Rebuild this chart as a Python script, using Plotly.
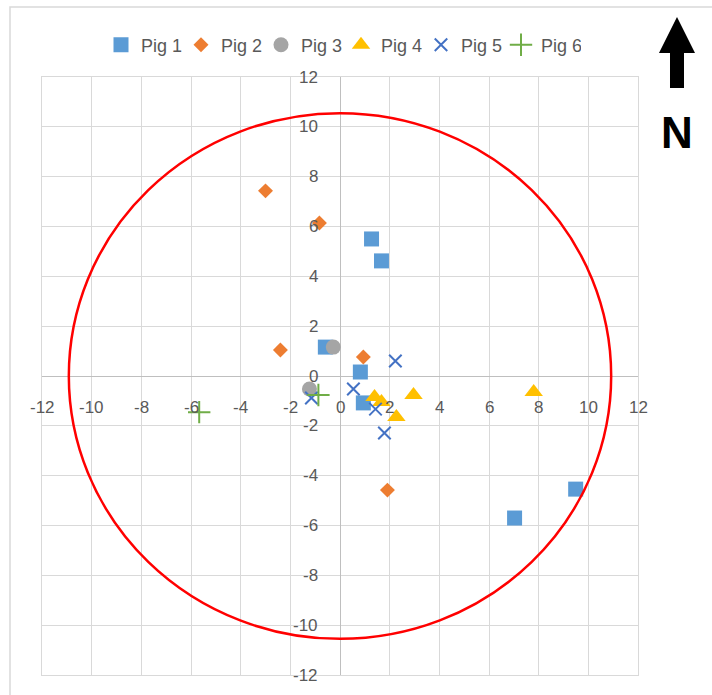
import plotly.graph_objects as go

# ---- data ----
pig1_x = [1.27, 1.67, -0.59, 0.82, 0.94, 7.03, 9.49]
pig1_y = [5.50, 4.62, 1.16, 0.16, -1.08, -5.70, -4.54]
pig2_x = [-3.00, -0.83, -2.40, 0.94, 1.91]
pig2_y = [7.43, 6.14, 1.04, 0.76, -4.58]
pig3_x = [-0.27, -1.23]
pig3_y = [1.16, -0.52]
pig4_x = [1.39, 1.67, 2.27, 2.96, 7.80]
pig4_y = [-0.84, -1.04, -1.65, -0.76, -0.64]
pig5_x = [2.23, 0.54, 1.43, 1.79, -1.15]
pig5_y = [0.60, -0.52, -1.33, -2.29, -0.88]
pig6_x = [-0.87, -5.67]
pig6_y = [-0.76, -1.45]

series_names = ["Pig 1", "Pig 2", "Pig 3", "Pig 4", "Pig 5", "Pig 6"]
tick_vals = [-12, -10, -8, -6, -4, -2, 0, 2, 4, 6, 8, 10, 12]
circle_rx = 10.92
circle_ry = 10.55

# ---- layout geometry (pixels) ----
W, H = 712, 695
ML, MR, MT, MB = 42, 74, 77, 20
PW, PH = W - ML - MR, H - MT - MB


def px(xp):
    return (xp - ML) / PW


def py(yp):
    return (H - MB - yp) / PH


styles = [
    dict(symbol="square", size=15, color="#5B9BD5"),
    dict(symbol="diamond", size=11.5, color="#ED7D31"),
    dict(symbol="circle", size=15, color="#A5A5A5"),
    dict(symbol="triangle-up", size=16, color="#FFC000"),
    dict(symbol="x-thin", size=12.5, color="#4472C4", line=dict(width=2, color="#4472C4")),
    dict(symbol="cross-thin", size=16, color="#70AD47", line=dict(width=2, color="#70AD47")),
]
xs = [pig1_x, pig2_x, pig3_x, pig4_x, pig5_x, pig6_x]
ys = [pig1_y, pig2_y, pig3_y, pig4_y, pig5_y, pig6_y]

fig = go.Figure()
for name, x, y, st in zip(series_names, xs, ys, styles):
    fig.add_trace(go.Scatter(x=x, y=y, mode="markers", name=name, marker=st))

txt_font = dict(family="Liberation Sans, Arial, sans-serif", size=17, color="#595959")
leg_font = dict(family="Liberation Sans, Arial, sans-serif", size=18, color="#595959")
annotations = []
for v in tick_vals:
    annotations.append(dict(x=v, y=-1.25, xref="x", yref="y", text=str(v), showarrow=False,
                            xanchor="center", yanchor="middle", font=txt_font))
    annotations.append(dict(x=-0.8, y=v, xref="x", yref="y", text=str(v), showarrow=False,
                            xanchor="right", yanchor="middle", font=txt_font))
annotations.append(dict(x=px(677), y=py(132), xref="paper", yref="paper", text="<b>N</b>",
                        showarrow=False, xanchor="center", yanchor="middle",
                        font=dict(family="Liberation Sans, Arial, sans-serif", size=44, color="#000000")))

# north arrow path
pts = [(677, 17), (695, 53), (684, 53), (684, 88), (670, 88), (670, 53), (659, 53)]
path = "M " + " L ".join(f"{px(a):.5f},{py(b):.5f}" for a, b in pts) + " Z"

shapes = [
    dict(type="rect", xref="paper", yref="paper", x0=px(10), y0=py(7), x1=px(730), y1=py(720),
         line=dict(color="#D9D9D9", width=1.5), layer="below"),
    dict(type="circle", xref="x", yref="y", x0=-circle_rx, x1=circle_rx, y0=-circle_ry, y1=circle_ry,
         line=dict(color="#FF0000", width=2.5)),
    dict(type="path", xref="paper", yref="paper", path=path, fillcolor="#000000",
         line=dict(color="#000000", width=0)),
]

axis_common = dict(range=[-12, 12], dtick=2, showticklabels=False, showgrid=True,
                   gridcolor="#D9D9D9", gridwidth=1.3, zeroline=True, zerolinecolor="#BFBFBF",
                   zerolinewidth=1.3, showline=True, mirror=True, linecolor="#D9D9D9", linewidth=1.3,
                   ticks="", fixedrange=True)

fig.update_layout(
    width=W, height=H,
    margin=dict(l=ML, r=MR, t=MT, b=MB, autoexpand=False),
    paper_bgcolor="white", plot_bgcolor="white",
    xaxis=axis_common, yaxis=axis_common,
    showlegend=True,
    legend=dict(orientation="h", x=px(101), y=py(45), xanchor="left", yanchor="middle",
                font=leg_font, entrywidth=35, entrywidthmode="pixels",
                bgcolor="rgba(0,0,0,0)", borderwidth=0, itemsizing="trace"),
    annotations=annotations,
    shapes=shapes,
)

fig.write_html("out.html", config={"displayModeBar": False},
               post_script="document.body.style.margin='0';document.body.style.overflow='hidden';")
